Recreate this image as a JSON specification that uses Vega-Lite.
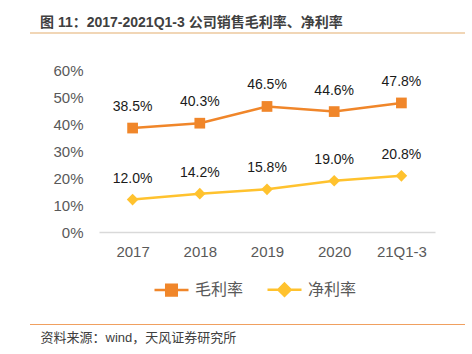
{
  "$schema": "https://vega.github.io/schema/vega-lite/v6.json",
  "width": 336,
  "height": 162,
  "autosize": {"type": "none"},
  "padding": {"left": 99, "top": 70, "right": 37, "bottom": 122},
  "background": "white",
  "config": {"view": {"stroke": null}, "font": "Liberation Sans, Noto Sans CJK SC"},
  "title": {
    "text": "图 11：2017-2021Q1-3 公司销售毛利率、净利率",
    "anchor": "start",
    "frame": "group",
    "dx": -59,
    "dy": 12,
    "offset": 14,
    "fontSize": 14,
    "fontWeight": "bold",
    "color": "#404040",
    "font": "Liberation Sans, Noto Sans CJK SC"
  },
  "data": {
    "values": [
      {"year": "2017", "series": "毛利率", "value": 0.385},
      {"year": "2018", "series": "毛利率", "value": 0.403},
      {"year": "2019", "series": "毛利率", "value": 0.465},
      {"year": "2020", "series": "毛利率", "value": 0.446},
      {"year": "21Q1-3", "series": "毛利率", "value": 0.478},
      {"year": "2017", "series": "净利率", "value": 0.120},
      {"year": "2018", "series": "净利率", "value": 0.142},
      {"year": "2019", "series": "净利率", "value": 0.158},
      {"year": "2020", "series": "净利率", "value": 0.190},
      {"year": "21Q1-3", "series": "净利率", "value": 0.208}
    ]
  },
  "encoding": {
    "x": {
      "field": "year", "type": "ordinal", "sort": null,
      "scale": {"type": "point", "padding": 0.5},
      "axis": {
        "title": "资料来源：wind，天风证券研究所",
        "titleAnchor": "start",
        "titleAlign": "left",
        "titleX": -59,
        "titleY": 105,
        "titleBaseline": "middle",
        "titleFontSize": 13,
        "titleFontWeight": "normal",
        "titleColor": "#404040",
        "labelAngle": 0,
        "labelFontSize": 15,
        "labelColor": "#595959",
        "labelPadding": 12,
        "ticks": false,
        "grid": false,
        "domainColor": "#D9D9D9",
        "domainWidth": 1.5
      }
    },
    "y": {
      "field": "value", "type": "quantitative",
      "scale": {"domain": [0, 0.6], "nice": false},
      "axis": {
        "title": null,
        "format": ".0%",
        "values": [0, 0.1, 0.2, 0.3, 0.4, 0.5, 0.6],
        "labelOverlap": false,
        "domain": false,
        "ticks": false,
        "grid": false,
        "labelPadding": 16,
        "labelFontSize": 15,
        "labelColor": "#595959"
      }
    }
  },
  "layer": [
    {
      "data": {"values": [{}]},
      "mark": {"type": "rule", "color": "#E3AE6E", "strokeWidth": 1.2},
      "encoding": {"x": {"value": -69}, "x2": {"value": 366}, "y": {"value": -37}}
    },
    {
      "data": {"values": [{}]},
      "mark": {"type": "rule", "color": "#F0A060", "strokeWidth": 1},
      "encoding": {"x": {"value": -69}, "x2": {"value": 366}, "y": {"value": 254.5}}
    },
    {
      "mark": {"type": "line", "strokeWidth": 2.5},
      "encoding": {
        "color": {
          "field": "series", "type": "nominal",
          "scale": {"domain": ["毛利率", "净利率"], "range": ["#F0862A", "#FFC22E"]},
          "legend": {
            "orient": "none",
            "legendX": 54,
            "legendY": 201,
            "direction": "horizontal",
            "title": null,
            "symbolSize": 1156,
            "symbolStrokeWidth": 2.5,
            "labelFontSize": 16,
            "labelColor": "#595959",
            "labelOffset": 5,
            "columnPadding": 18,
            "encode": {
              "symbols": {
                "update": {
                  "shape": {"signal": "datum.value == '毛利率' ? 'M-1,0H1M-0.31,-0.31H0.31V0.31H-0.31Z' : 'M-1,0H1M0,-0.36L0.36,0L0,0.36L-0.36,0Z'"},
                  "size": {"value": 1156},
                  "fill": {"signal": "datum.value == '毛利率' ? '#F0862A' : '#FFC22E'"},
                  "stroke": {"signal": "datum.value == '毛利率' ? '#F0862A' : '#FFC22E'"},
                  "strokeWidth": {"value": 2.5},
                  "fillOpacity": {"value": 1},
                  "strokeOpacity": {"value": 1},
                  "opacity": {"value": 1}
                }
              }
            }
          }
        }
      }
    },
    {
      "transform": [{"filter": "datum.series == '毛利率'"}],
      "mark": {"type": "point", "filled": true, "opacity": 1, "shape": "square", "size": 115},
      "encoding": {
        "color": {"field": "series", "type": "nominal"}
      }
    },
    {
      "transform": [{"filter": "datum.series == '净利率'"}],
      "mark": {"type": "point", "filled": true, "opacity": 1, "shape": "diamond", "size": 135},
      "encoding": {
        "color": {"field": "series", "type": "nominal"}
      }
    },
    {
      "mark": {"type": "text", "fontSize": 14, "color": "#1A1A1A", "baseline": "middle", "dy": -21},
      "encoding": {
        "text": {"field": "value", "type": "quantitative", "format": ".1%"}
      }
    }
  ]
}
